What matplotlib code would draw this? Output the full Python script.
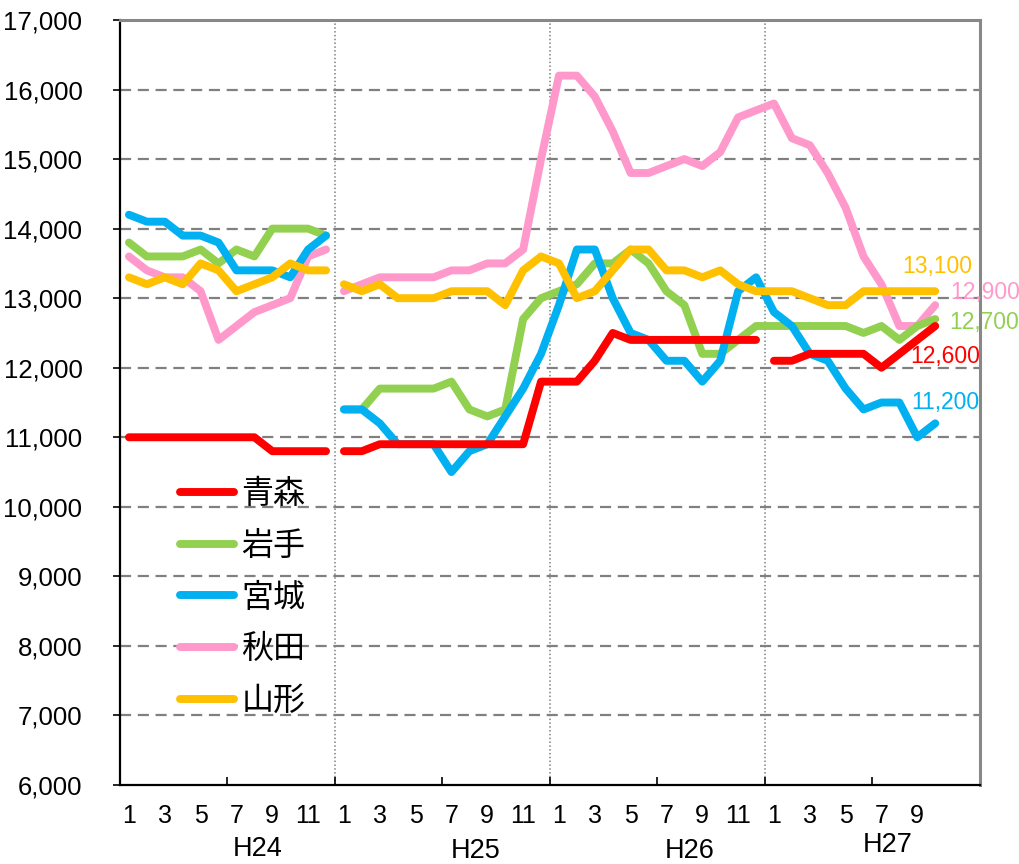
import matplotlib
matplotlib.use("Agg")
import matplotlib.pyplot as plt
import numpy as np
from matplotlib.ticker import FuncFormatter, FixedLocator

plt.rcParams['font.family'] = ['Liberation Sans', 'Noto Sans CJK JP', 'DejaVu Sans']

years = ["H24", "H25", "H26", "H27"]
months_per_year = 12

names = ["青森", "岩手", "宮城", "秋田", "山形"]
colors = ["#FF0000", "#92D050", "#00B0F0", "#FF99CC", "#FFC000"]

aomori = {
    "H24": [11000, 11000, 11000, 11000, 11000, 11000, 11000, 11000, 10800, 10800, 10800, 10800],
    "H25": [10800, 10800, 10900, 10900, 10900, 10900, 10900, 10900, 10900, 10900, 10900, 11800],
    "H26": [11800, 11800, 12100, 12500, 12400, 12400, 12400, 12400, 12400, 12400, 12400, 12400],
    "H27": [12100, 12100, 12200, 12200, 12200, 12200, 12000, 12200, 12400, 12600],
}
iwate = {
    "H24": [13800, 13600, 13600, 13600, 13700, 13500, 13700, 13600, 14000, 14000, 14000, 13900],
    "H25": [11400, 11400, 11700, 11700, 11700, 11700, 11800, 11400, 11300, 11400, 12700, 13000],
    "H26": [13100, 13200, 13500, 13500, 13700, 13500, 13100, 12900, 12200, 12200, 12400, 12600],
    "H27": [12600, 12600, 12600, 12600, 12600, 12500, 12600, 12400, 12600, 12700],
}
miyagi = {
    "H24": [14200, 14100, 14100, 13900, 13900, 13800, 13400, 13400, 13400, 13300, 13700, 13900],
    "H25": [11400, 11400, 11200, 10900, 10900, 10900, 10500, 10800, 10900, 11300, 11700, 12200],
    "H26": [12900, 13700, 13700, 13000, 12500, 12400, 12100, 12100, 11800, 12100, 13100, 13300],
    "H27": [12800, 12600, 12200, 12100, 11700, 11400, 11500, 11500, 11000, 11200],
}
akita = {
    "H24": [13600, 13400, 13300, 13300, 13100, 12400, 12600, 12800, 12900, 13000, 13600, 13700],
    "H25": [13100, 13200, 13300, 13300, 13300, 13300, 13400, 13400, 13500, 13500, 13700, 15000],
    "H26": [16200, 16200, 15900, 15400, 14800, 14800, 14900, 15000, 14900, 15100, 15600, 15700],
    "H27": [15800, 15300, 15200, 14800, 14300, 13600, 13200, 12600, 12600, 12900],
}
yamagata = {
    "H24": [13300, 13200, 13300, 13200, 13500, 13400, 13100, 13200, 13300, 13500, 13400, 13400],
    "H25": [13200, 13100, 13200, 13000, 13000, 13000, 13100, 13100, 13100, 12900, 13400, 13600],
    "H26": [13500, 13000, 13100, 13400, 13700, 13700, 13400, 13400, 13300, 13400, 13200, 13100],
    "H27": [13100, 13100, 13000, 12900, 12900, 13100, 13100, 13100, 13100, 13100],
}
series = [aomori, iwate, miyagi, akita, yamagata]

# which consecutive years are joined by a continuous line (per series)
joined = [
    [("H24",), ("H25", "H26"), ("H27",)],
    [("H24",), ("H25", "H26", "H27")],
    [("H24",), ("H25", "H26", "H27")],
    [("H24",), ("H25", "H26", "H27")],
    [("H24",), ("H25", "H26", "H27")],
]

# end label offsets (pixels) relative to last point
label_offsets = [(10, -31), (49, -3), (10, 21), (50, 13), (2, 25)]

fig = plt.figure(figsize=(10.2, 8.64), dpi=100)
W, H = 1020, 864
ax = fig.add_axes([120 / W, 1 - 785 / H, 860 / W, 765 / H])

ax.set_xlim(0, 48)
ax.set_ylim(6000, 17000)

# gridlines
for v in range(7000, 17000, 1000):
    ax.axhline(v, color="#808080", lw=1.6, dashes=(5, 3), zorder=1)
# year dividers
for k in range(1, 4):
    ax.axvline(k * months_per_year, color="#808080", lw=1.1, ls=(0, (1, 1.5)), zorder=1)

draw_order = [3, 1, 2, 0, 4]
lines = {}
for i in draw_order:
    s = series[i]
    for seg in joined[i]:
        xs, ys = [], []
        for y in seg:
            yi = years.index(y)
            vals = s[y]
            xs += [yi * months_per_year + m + 0.5 for m in range(len(vals))]
            ys += vals
        ln, = ax.plot(xs, ys, color=colors[i], lw=5.7, solid_capstyle="round",
                      solid_joinstyle="round", zorder=3 + draw_order.index(i))
        lines[i] = ln
    # end label
    yi = years.index("H27")
    lastx = yi * months_per_year + len(s["H27"]) - 1 + 0.5
    lastv = s["H27"][-1]
    ax.annotate(f"{lastv:,}", xy=(lastx, lastv), xytext=label_offsets[i],
                textcoords="offset pixels", ha="center", va="center",
                color=colors[i], fontsize=16.5, annotation_clip=False, zorder=10)

# y axis
ax.set_yticks(range(6000, 17001, 1000))
ax.yaxis.set_major_formatter(FuncFormatter(lambda v, p: f"{int(v):,}"))
ax.tick_params(axis="y", direction="out", length=5, width=1.2, labelsize=18.5, pad=22)

# x axis: labels at odd months, marks every 6 months
label_pos, label_txt = [], []
for yi, y in enumerate(years):
    nmax = 12 if y != "H27" else 10
    for m in range(1, nmax + 1, 2):
        label_pos.append(yi * months_per_year + m - 0.5)
        label_txt.append(str(m))
ax.set_xticks(label_pos)
ax.set_xticklabels(label_txt)
ax.tick_params(axis="x", which="major", length=0, labelsize=18, pad=14)
ax.xaxis.set_minor_locator(FixedLocator(list(range(6, 48, 6))))
ax.tick_params(axis="x", which="minor", direction="in", length=6, width=1.2)

# spines
for sp in ["left", "bottom"]:
    ax.spines[sp].set_color("black")
    ax.spines[sp].set_linewidth(1.6)
for sp in ["top", "right"]:
    ax.spines[sp].set_color("#888888")
    ax.spines[sp].set_linewidth(2.2)

# year labels
year_label_px = [(258, 849), (476, 851), (690, 851), (888, 845)]
for y, (px, py) in zip(years, year_label_px):
    fig.text(px / W, 1 - py / H, y, ha="center", va="center", fontsize=19.5)

# legend
handles = [lines[i] for i in range(5)]
leg = ax.legend(handles, names, loc="upper left",
                bbox_to_anchor=((180 - 120) / 860, 1 - (478 - 20) / 765),
                frameon=False, handlelength=1.7, handletextpad=0.22,
                labelspacing=0.62, borderpad=0, borderaxespad=0,
                prop={"family": ["Noto Sans CJK JP"], "size": 23})

fig.savefig("out.png", dpi=100)
